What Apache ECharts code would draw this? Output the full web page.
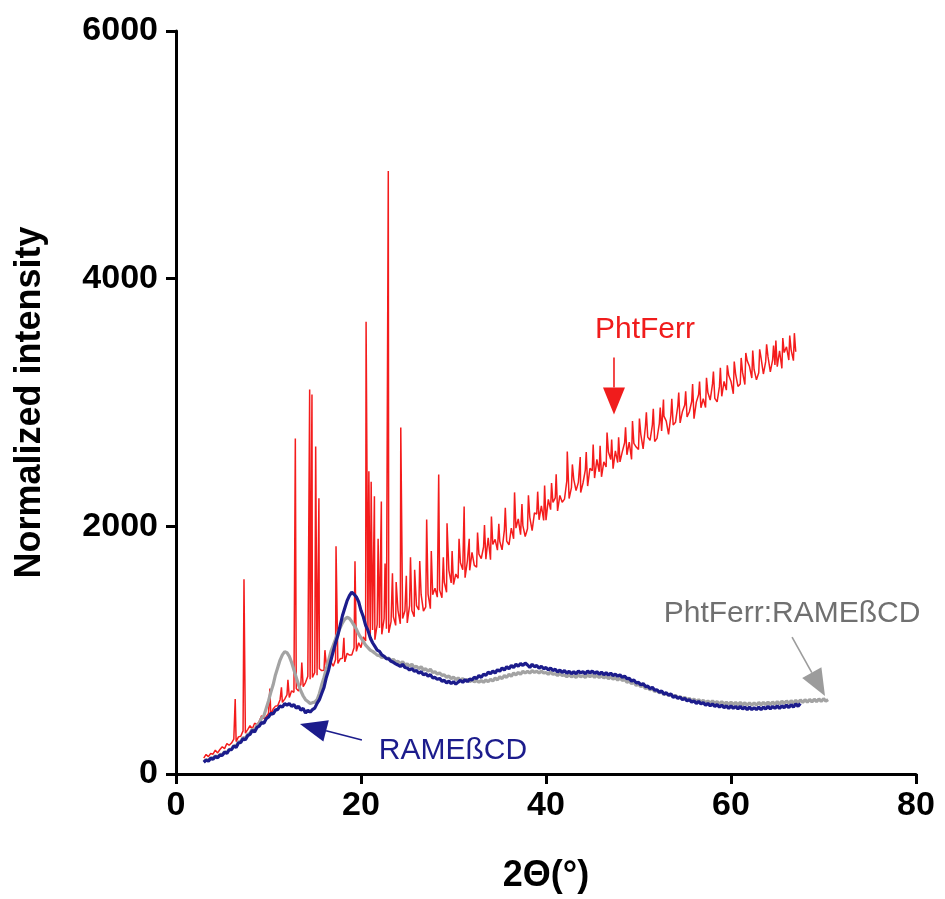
<!DOCTYPE html>
<html><head><meta charset="utf-8">
<script src="https://cdn.jsdelivr.net/npm/echarts@6/dist/echarts.min.js"></script>
<style>html,body{margin:0;padding:0;background:#fff}#c{width:945px;height:899px}</style>
</head><body><div id="c"></div>
<script>
const X_START = 3, X_STEP = 0.25;
const xTicks = [0, 20, 40, 60, 80];
const yTicks = [0, 2000, 4000, 6000];

// PhtFerr background trace (values read every 0.25 deg from 3 to 67)
const redBase = [
128,158,140,165, 160,192,170,198, 220,205,246,232, 250,282,262,300,
305,348,330,358, 390,365,410,398, 425,470,448,462, 490,475,525,548,
552,600,578,605, 640,618,672,660, 690,670,725,705, 738,790,765,780,
820,798,850,835, 838,880,870,905, 870,925,892,930, 935,905,975,960,
960,1020,990,1060,
1020,1108,1075,1163, 1080,1163,1085,1208, 1180,1128,1255,1173, 1140,1230,1270,1200,
1320,1213,1255,1318, 1220,1360,1320,1270, 1360,1325,1450,1315, 1350,1453,1335,1448,
1500,1428,1485,1423, 1550,1468,1645,1543, 1530,1615,1580,1705, 1650,1585,1720,1645,
1790,1685,1670,1775, 1740,1833,1735,1908, 1730,1853,1895,1808, 1880,1810,1970,1880,
1850,1985,1900,1985, 2060,1933,2005,1918, 1980,2073,1965,2108, 2100,2053,2165,2048,
2050,2218,2135,2193, 2230,2125,2250,2195, 2220,2368,2225,2313, 2380,2288,2355,2273,
2350,2453,2325,2468, 2450,2390,2540,2440, 2400,2520,2480,2600, 2540,2465,2610,2515,
2520,2603,2675,2578, 2680,2540,2670,2640, 2620,2743,2625,2808, 2720,2695,2820,2685,
2710,2830,2770,2890, 2850,2743,2895,2818, 2840,2973,2835,2928, 2980,2883,2925,3008,
2870,3003,3065,2958, 3030,2960,3080,3020, 3150,3033,3005,3128, 3050,3170,3100,3220,
3170,3070,3230,3130, 3150,3243,3145,3338, 3290,3198,3265,3183, 3240,3360,3230,3330,
3370,3248,3345,3303, 3290,3418,3275,3403, 3450,3343,3425,3338,
3410
];
// PhtFerr diffraction peaks [2Theta, intensity]
const redPeaks = [
[6.4,605],[7.35,1573],[10.15,690],[11.4,700],[12.1,760],[12.9,2710],[13.6,900],
[14.45,3105],[14.7,3065],[15.1,2645],[15.45,2226],[16.1,1000],[17.3,1840],[18.15,1100],
[19.35,1718],[20.55,3653],[20.85,2445],[21.1,2360],[21.45,2242],[21.85,1900],[22.2,2200],
[22.6,1700],[22.95,4870],[23.4,1620],[23.8,1550],[24.3,2798],[24.9,1600],[25.35,1750],
[25.8,1650],[26.35,1720],[27.1,2056],[27.6,1800],[28.4,2419],[28.9,1750],[29.3,2024],
[29.85,1800],[30.6,1900],[31.15,2161],[31.7,1900],[32.6,1950],[33.35,2010],[34.1,2080],
[34.9,2020],[35.6,2150],[36.6,2274],[37.4,2180],[38.1,2250],[39.1,2280],[39.85,2330],
[40.6,2350],[41.1,2420],[42.3,2605],[42.85,2500],[43.7,2560],[44.35,2600],[45.1,2661],
[45.85,2650],[46.6,2758],[47.1,2700],[47.85,2720],[48.6,2800],[49.35,2850],[50.1,2870],
[50.85,2920],[51.6,2950],[52.35,2960],[52.7,3024],[53.6,3030],[54.35,3080],[55.1,3090],
[55.85,3150],[56.6,3170],[57.35,3200],[58.1,3250],[58.85,3280],[59.6,3300],[60.35,3330],
[61.1,3360],[61.6,3400],[62.35,3420],[63.1,3430],[63.85,3470],[64.6,3460],[64.85,3500],
[65.6,3520],[66.35,3540],[66.85,3560]
];
// RAMEBCD trace (every 0.25 deg from 3 to 67.5)
const blueVals = [
95,112,104,126, 120,142,131,152, 150,176,166,196, 196,226,214,250,
254,286,276,310, 320,352,340,376, 386,416,410,446, 460,490,484,516,
522,550,540,568, 556,570,546,560, 532,546,516,530, 492,514,500,520,
532,570,600,650, 700,780,840,920, 990,1060,1120,1200, 1280,1340,1400,1440,
1468,1452,1430,1390, 1320,1270,1200,1160, 1100,1060,1030,1000, 990,962,950,932,
930,910,902,890, 880,868,886,860, 856,840,852,830, 836,814,826,800,
810,790,802,776, 780,764,772,750, 756,736,750,730, 746,726,742,756,
740,762,746,766, 760,782,770,796, 780,806,796,822, 810,832,816,842,
830,856,840,866, 850,876,860,886, 870,892,876,896, 880,860,886,866,
876,854,870,850, 860,840,856,836, 846,824,840,820, 836,814,830,810,
826,810,832,816, 826,810,832,816, 832,812,826,806, 822,802,818,798,
815,795,806,790, 800,780,790,770, 772,750,760,736, 740,720,730,706,
710,690,700,676, 680,660,670,646, 656,636,646,620, 630,610,622,600,
610,590,600,580, 590,570,586,566, 576,556,570,550, 566,546,560,540,
556,536,550,530, 550,530,546,526, 546,526,540,520, 540,520,536,520,
540,520,540,526, 546,526,546,530, 550,530,550,536, 556,536,560,540,
566,546,570
];
// PhtFerr:RAMEBCD trace (every 0.25 deg from 3 to 70.5)
const grayVals = [
100,116,110,130, 126,146,136,158, 156,180,170,200, 200,230,224,258,
264,294,286,320, 330,362,356,394, 410,450,470,530, 590,660,720,800,
860,920,962,988, 980,950,900,840, 780,720,670,630, 600,586,570,576,
580,600,650,720, 780,850,920,990, 1040,1090,1140,1180, 1220,1250,1266,1256,
1230,1200,1170,1130, 1100,1070,1040,1020, 1000,990,976,960, 956,940,950,930,
936,916,926,906, 910,890,906,880, 890,870,886,860, 870,850,866,840,
850,830,846,820, 826,806,816,796, 800,780,792,770, 782,762,776,756,
770,750,765,745, 760,745,755,740, 755,740,760,745, 765,750,775,760,
785,770,795,780, 805,790,815,800, 820,805,830,815, 830,815,835,820,
830,815,832,815, 820,805,825,805, 810,795,815,795, 800,785,805,785,
795,780,800,785, 795,780,800,785, 800,780,798,778, 795,775,790,770,
785,765,778,758, 775,755,765,740, 750,730,740,715, 725,705,715,690,
700,680,690,665, 675,655,665,640, 655,635,645,625, 635,615,625,605,
620,600,610,590, 605,585,600,580, 595,575,590,570, 590,570,585,565,
585,565,580,560, 580,560,578,558, 578,558,575,555, 575,555,575,555,
578,558,578,560, 580,560,582,562, 585,565,588,568, 590,570,592,572,
595,575,598,578, 600,580,602,582, 604,584,606,586, 608,588,600
];

const COL_RED = '#f41c1c', COL_BLUE = '#1c1c8c', COL_GRAY = '#a3a3a3';
const FONT = '"Liberation Sans", Arial, Helvetica, sans-serif';

// annotation anchors in data coordinates
const annoTexts = [
  {text: 'PhtFerr', at: [50.7, 3589], color: '#f01c1c'},
  {text: 'RAMEßCD', at: [29.95, 185], color: COL_BLUE},
  {text: 'PhtFerr:RAMEßCD', at: [66.6, 1298], color: '#707070'}
];
const annoArrows = [
  {from: [47.35, 3363], to: [47.35, 2903], color: '#f01c1c'},
  {from: [20.1, 274], to: [13.4, 403], color: COL_BLUE},
  {from: [66.6, 1105], to: [70.16, 629], color: '#9c9c9c'}
];

function toPairs(vals) { return vals.map((v, i) => [X_START + i * X_STEP, v]); }
const redData = toPairs(redBase).concat(redPeaks).sort((a, b) => a[0] - b[0]);
const blueData = toPairs(blueVals);
const grayData = toPairs(grayVals);

const chart = echarts.init(document.getElementById('c'), null, {renderer: 'canvas'});
const axisCommon = {
  type: 'value',
  axisLine: {show: true, onZero: false, lineStyle: {color: '#000', width: 3}},
  axisTick: {show: true, inside: false, length: 10, lineStyle: {color: '#000', width: 3}},
  axisLabel: {fontSize: 34, fontWeight: 'bold', color: '#000', fontFamily: FONT,
              formatter: v => String(v)},
  splitLine: {show: false},
  nameLocation: 'middle',
  nameTextStyle: {fontSize: 36, fontWeight: 'bold', color: '#000', fontFamily: FONT}
};
chart.setOption({
  animation: false,
  backgroundColor: '#fff',
  grid: {left: 176, right: 29, top: 31, bottom: 123, containLabel: false},
  xAxis: Object.assign({}, axisCommon, {
    min: xTicks[0], max: xTicks[xTicks.length - 1], interval: xTicks[1] - xTicks[0],
    name: '2Θ(°)', nameGap: 84,
    axisLabel: Object.assign({}, axisCommon.axisLabel, {margin: 15})
  }),
  yAxis: Object.assign({}, axisCommon, {
    min: yTicks[0], max: yTicks[yTicks.length - 1], interval: yTicks[1] - yTicks[0],
    name: 'Normalized intensity', nameGap: 128, nameRotate: 90,
    axisLabel: Object.assign({}, axisCommon.axisLabel, {margin: 18})
  }),
  series: [
    {name: 'PhtFerr', type: 'line', data: redData, showSymbol: false, symbol: 'none',
     lineStyle: {color: COL_RED, width: 1.5}, z: 2},
    {name: 'PhtFerr:RAMEßCD', type: 'line', data: grayData, showSymbol: false, symbol: 'none',
     lineStyle: {color: COL_GRAY, width: 3.2}, z: 3},
    {name: 'RAMEßCD', type: 'line', data: blueData, showSymbol: false, symbol: 'none',
     lineStyle: {color: COL_BLUE, width: 3.2}, z: 4}
  ]
});

function drawAnnotations() {
  const els = [];
  annoTexts.forEach(t => {
    const p = chart.convertToPixel({gridIndex: 0}, t.at);
    els.push({type: 'text', x: p[0], y: p[1], z: 10,
      style: {text: t.text, fill: t.color, font: '30px ' + FONT, textAlign: 'center', textVerticalAlign: 'middle'}});
  });
  annoArrows.forEach(a => {
    const p0 = chart.convertToPixel({gridIndex: 0}, a.from);
    const p1 = chart.convertToPixel({gridIndex: 0}, a.to);
    const dx = p1[0] - p0[0], dy = p1[1] - p0[1];
    const len = Math.sqrt(dx * dx + dy * dy);
    const ux = dx / len, uy = dy / len;
    const headLen = 27, halfW = 11;
    const bx = p1[0] - ux * headLen, by = p1[1] - uy * headLen;
    els.push({type: 'line', z: 10, shape: {x1: p0[0], y1: p0[1], x2: bx, y2: by},
      style: {stroke: a.color, lineWidth: 1.6}});
    els.push({type: 'polygon', z: 10, shape: {points: [
      [p1[0], p1[1]], [bx - uy * halfW, by + ux * halfW], [bx + uy * halfW, by - ux * halfW]]},
      style: {fill: a.color}});
  });
  chart.setOption({graphic: {elements: els}});
}
drawAnnotations();
</script>
</body></html>
